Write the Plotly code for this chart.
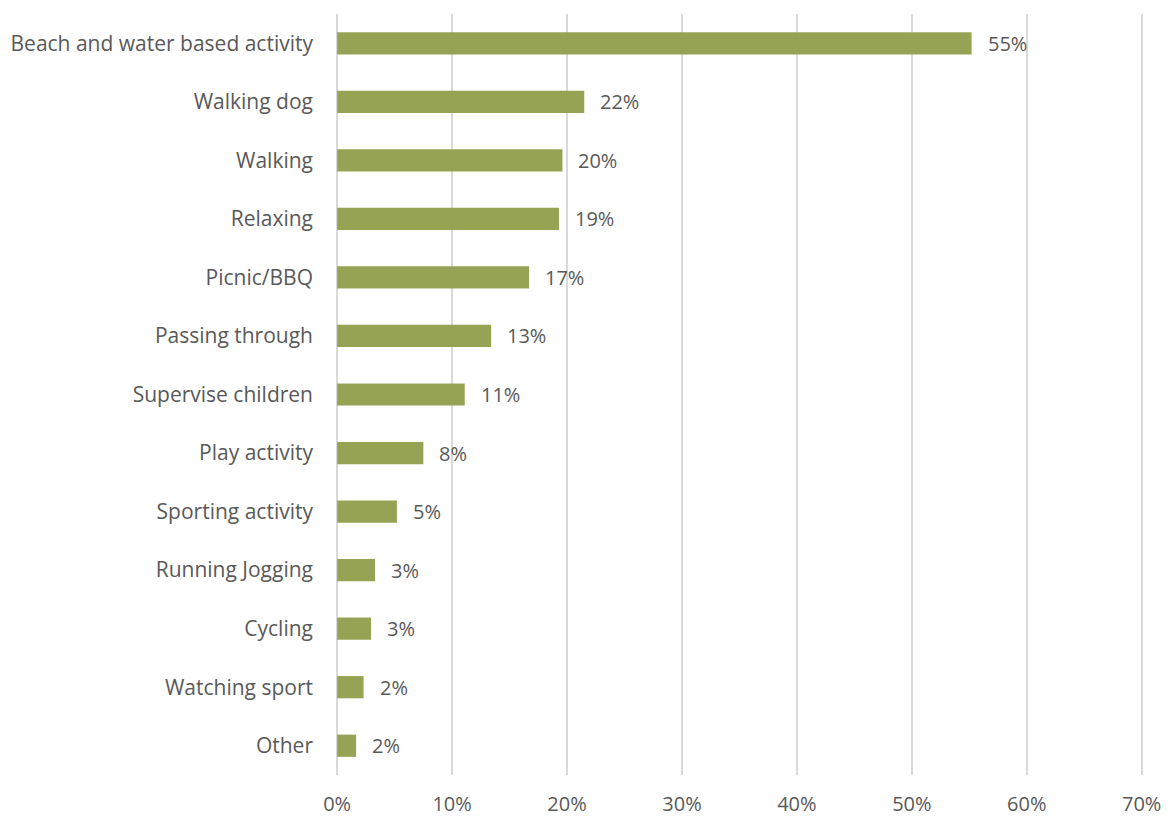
import plotly.graph_objects as go

categories = ["Beach and water based activity", "Walking dog", "Walking", "Relaxing",
              "Picnic/BBQ", "Passing through", "Supervise children", "Play activity",
              "Sporting activity", "Running Jogging", "Cycling", "Watching sport", "Other"]
values = [55.2, 21.5, 19.6, 19.3, 16.7, 13.4, 11.1, 7.5, 5.2, 3.3, 2.95, 2.3, 1.65]
labels = ["55%", "22%", "20%", "19%", "17%", "13%", "11%", "8%", "5%", "3%", "3%", "2%", "2%"]
tick_vals = [0, 10, 20, 30, 40, 50, 60, 70]
tick_text = ["0%", "10%", "20%", "30%", "40%", "50%", "60%", "70%"]

FONT = "Open Sans"
TXT = "#595959"
FS = 21

fig = go.Figure(go.Bar(
    y=categories, x=values, orientation="h",
    marker=dict(color="#97A354", line=dict(width=0)),
    hoverinfo="skip",
))

for c, v, l in zip(categories, values, labels):
    fig.add_annotation(x=v, y=c, text=l, showarrow=False, xanchor="left",
                       xshift=14, font=dict(family=FONT, size=FS - 1, color=TXT))

fig.update_layout(
    width=1171, height=816,
    margin=dict(l=336, r=27, t=14, b=41, autoexpand=False),
    paper_bgcolor="white", plot_bgcolor="white",
    bargap=0.62,
    showlegend=False,
    font=dict(family=FONT, size=FS, color=TXT),
)
fig.update_xaxes(range=[-0.1, 70.2], tickvals=tick_vals, ticktext=tick_text,
                 showgrid=True, gridcolor="#d9d9d9", gridwidth=2,
                 zeroline=True, zerolinecolor="#d9d9d9", zerolinewidth=2,
                 showline=False, ticks="", ticklabelstandoff=15,
                 tickfont=dict(family=FONT, size=FS - 1, color=TXT))
fig.update_yaxes(autorange="reversed", showgrid=False, showline=False, ticks="",
                 ticklabelstandoff=22,
                 tickfont=dict(family=FONT, size=FS, color=TXT))

fig.write_html("out.html", config={"displayModeBar": False},
               post_script="document.body.style.margin='0';document.body.style.overflow='hidden';")
